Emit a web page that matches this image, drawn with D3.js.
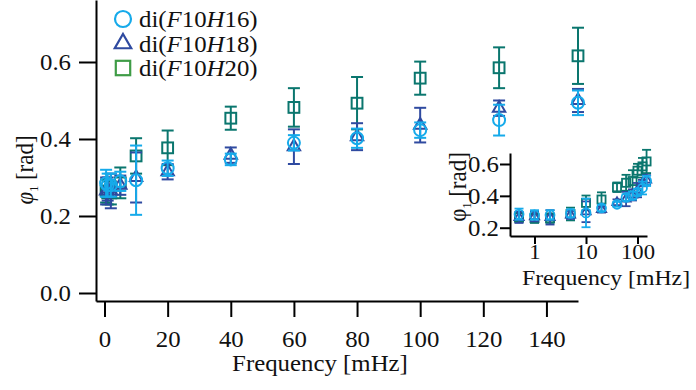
<!DOCTYPE html>
<html>
<head>
<meta charset="utf-8">
<script src="https://cdn.jsdelivr.net/npm/d3@7"></script>
<style>
  body { margin: 0; background: #fff; }
  svg text { font-family: "Times New Roman", "Liberation Serif", Times, serif; fill: #111; }
</style>
</head>
<body>
<div id="chart"></div>
<script>
// ---- data ---------------------------------------------------------------
var freqs = [0.5, 1, 2, 5, 10, 20, 40, 60, 80, 100, 125, 150];

var h16 = [0.285, 0.28, 0.28, 0.29, 0.293, 0.324, 0.347, 0.390, 0.402, 0.423, 0.449, 0.494];
var h16Err = [0.035, 0.03, 0.03, 0.025, 0.09, 0.02, 0.015, 0.02, 0.025, 0.02, 0.04, 0.032];

var h18 = [0.265, 0.27, 0.265, 0.28, 0.30, 0.315, 0.358, 0.38, 0.406, 0.436, 0.48, 0.50];
var h18Err = [0.035, 0.03, 0.045, 0.025, 0.065, 0.02, 0.02, 0.045, 0.035, 0.045, 0.02, 0.03];

var h20 = [0.265, 0.26, 0.26, 0.286, 0.356, 0.377, 0.454, 0.482, 0.493, 0.558, 0.585, 0.616];
var h20Err = [0.03, 0.03, 0.03, 0.04, 0.046, 0.045, 0.03, 0.05, 0.068, 0.043, 0.053, 0.073];

var seriesNames = ["16", "18", "20"];
var mainXTicks = [0, 20, 40, 60, 80, 100, 120, 140];
var mainYTicks = [0.0, 0.2, 0.4, 0.6];
var insetXTicks = [1, 10, 100];
var insetYTicks = [0.2, 0.4, 0.6];

// ---- setup ---------------------------------------------------------------
var W = 696, H = 390;
var SX = 1.08; // the picture's glyphs are a bit wide
var FONT = 23;

var svg = d3.select("#chart").append("svg")
	.attr("width", W)
	.attr("height", H);

var series = [
	{ name: seriesNames[2], vals: h20, err: h20Err, shape: "square", color: "#0a766e", legendColor: "#3f9c46" },
	{ name: seriesNames[1], vals: h18, err: h18Err, shape: "triangle", color: "#2f4aa0", legendColor: "#2f4aa0" },
	{ name: seriesNames[0], vals: h16, err: h16Err, shape: "circle", color: "#16aaea", legendColor: "#16aaea" }
];

function marker(g, shape, color, s, sw) {
	if (shape == "circle") {
		g.append("circle").attr("r", s * 0.5)
			.attr("fill", "none").attr("stroke", color).attr("stroke-width", sw);
	} else if (shape == "square") {
		g.append("rect").attr("x", -s * 0.45).attr("y", -s * 0.45)
			.attr("width", s * 0.9).attr("height", s * 0.9)
			.attr("fill", "none").attr("stroke", color).attr("stroke-width", sw);
	} else {
		g.append("path")
			.attr("d", d3.symbol(d3.symbolTriangle, s * s * 0.46)())
			.attr("fill", "none").attr("stroke", color).attr("stroke-width", sw);
	}
}

function drawSeries(root, x, y, opt) {
	series.forEach(function(s) {
		var grp = root.append("g");
		freqs.forEach(function(f, i) {
			var px = x(f), v = s.vals[i], e = s.err[i];
			grp.append("line")
				.attr("x1", px).attr("x2", px)
				.attr("y1", y(v - e)).attr("y2", y(v + e))
				.attr("stroke", s.color).attr("stroke-width", opt.sw);
			[v - e, v + e].forEach(function(c) {
				grp.append("line")
					.attr("x1", px - opt.cap / 2).attr("x2", px + opt.cap / 2)
					.attr("y1", y(c)).attr("y2", y(c))
					.attr("stroke", s.color).attr("stroke-width", opt.sw);
			});
			var m = grp.append("g").attr("transform", "translate(" + px + "," + y(v) + ")");
			marker(m, s.shape, s.color, opt.size, opt.sw);
		});
	});
}

function styleAxis(g, isLeft, tickLen, pad, fs) {
	fs = fs || FONT;
	g.attr("font-family", null);
	g.select(".domain").attr("stroke", "#000").attr("stroke-width", 2);
	g.selectAll(".tick line").attr("stroke", "#000").attr("stroke-width", 2);
	g.selectAll(".tick text")
		.style("font-size", fs + "px")
		.attr("fill", "#111")
		.attr("transform", "scale(" + SX + ",1)");
	if (isLeft) {
		g.selectAll(".tick text").attr("x", -(tickLen + pad) / SX);
	}
}

function stretchedText(parent, x, y, rot, fs) {
	return parent.append("text")
		.attr("transform", "translate(" + x + "," + y + ") scale(" + SX + ",1)" + (rot ? " rotate(-90)" : ""))
		.attr("text-anchor", "middle")
		.style("font-size", (fs || FONT) + "px");
}

// ---- main panel ----------------------------------------------------------
var x = d3.scaleLinear().domain([-2.7, 150]).range([96, 578]);
var y = d3.scaleLinear().domain([-0.0208, 0.761]).range([301, 0]);

var main = svg.append("g");

drawSeries(main, x, y, { sw: 2, cap: 12, size: 12 });

var xAxis = main.append("g")
	.attr("transform", "translate(0,301)")
	.call(d3.axisBottom(x).tickValues(mainXTicks).tickSize(16).tickSizeOuter(0).tickPadding(14)
		.tickFormat(d3.format("d")));
styleAxis(xAxis, false);

var yAxis = main.append("g")
	.attr("transform", "translate(96,0)")
	.call(d3.axisLeft(y).tickValues(mainYTicks).tickSize(17).tickSizeOuter(0)
		.tickFormat(d3.format(".1f")));
styleAxis(yAxis, true, 17, 8);

stretchedText(main, 320, 371, false).text("Frequency [mHz]");

var yl = stretchedText(main, 33, 170, true);
yl.append("tspan").style("font-style", "italic").text("φ");
yl.append("tspan").attr("dy", 5).style("font-size", "12px").text("1");
yl.append("tspan").attr("dy", -5).text(" [rad]");

// legend
var legend = main.append("g");
series.slice().reverse().forEach(function(s, i) {
	var cy = 19 + i * 24.5;
	var m = legend.append("g").attr("transform", "translate(123," + cy + ")");
	marker(m, s.shape, s.legendColor, 16, 2.2);
	var t = legend.append("text")
		.attr("transform", "translate(139," + (cy + 8) + ") scale(" + SX + ",1)")
		.style("font-size", FONT + "px");
	t.append("tspan").text("di(");
	t.append("tspan").style("font-style", "italic").text("F");
	t.append("tspan").text("10");
	t.append("tspan").style("font-style", "italic").text("H");
	t.append("tspan").text(s.name + ")");
});

// ---- inset panel ---------------------------------------------------------
var xi = d3.scaleLog().domain([0.334, 153]).range([510, 647]);
var yi = d3.scaleLinear().domain([0.148, 0.669]).range([236, 153]);

var inset = svg.append("g");

drawSeries(inset, xi, yi, { sw: 1.8, cap: 9, size: 9 });

var xiAxis = inset.append("g")
	.attr("transform", "translate(0,236)")
	.call(d3.axisBottom(xi).tickValues(insetXTicks).tickSize(8).tickSizeOuter(0).tickPadding(0)
		.tickFormat(d3.format("d")));
styleAxis(xiAxis, false, 8, 0, 21);

var yiAxis = inset.append("g")
	.attr("transform", "translate(510,0)")
	.call(d3.axisLeft(yi).tickValues(insetYTicks).tickSize(10).tickSizeOuter(0)
		.tickFormat(d3.format(".1f")));
styleAxis(yiAxis, true, 10, 1);

stretchedText(inset, 606, 285, false, 22).text("Frequency [mHz]");

var yil = stretchedText(inset, 466, 187, true);
yil.append("tspan").text("φ");
yil.append("tspan").attr("dy", 5).style("font-size", "12px").text("1");
yil.append("tspan").attr("dy", -5).text(" [rad]");
</script>
</body>
</html>
